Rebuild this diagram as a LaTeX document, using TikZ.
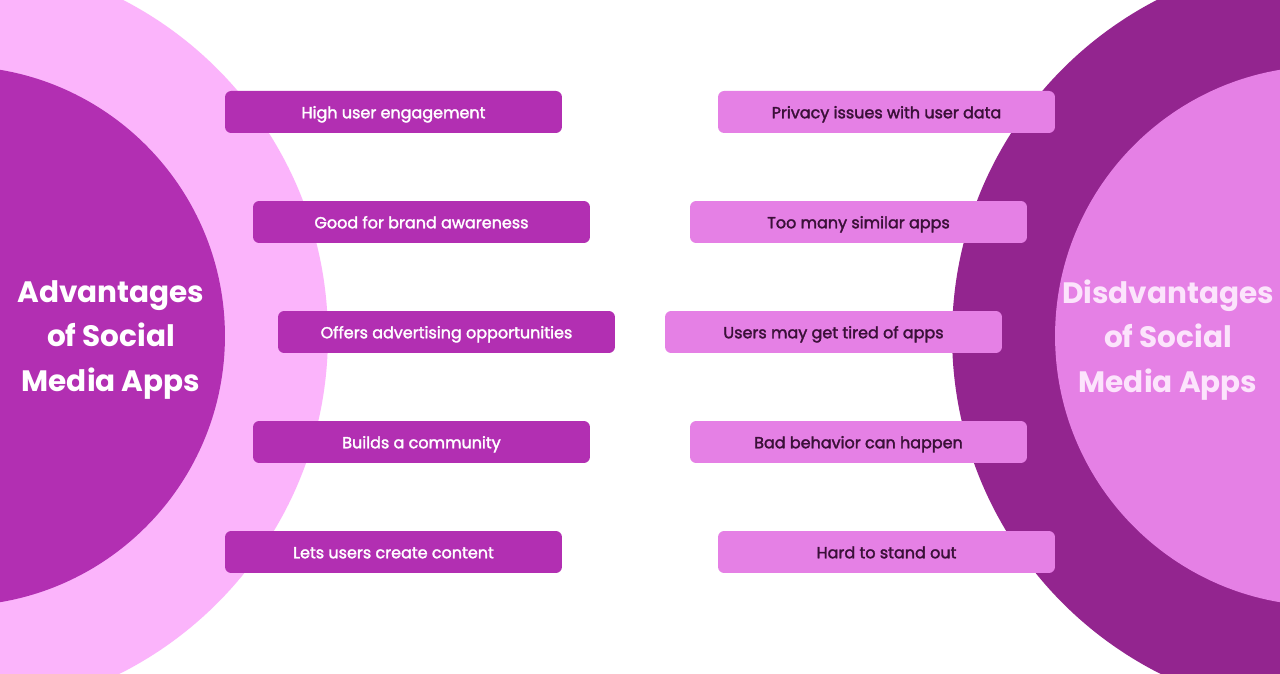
\documentclass[tikz,border=0pt]{standalone}
\usepackage{fontspec}
\setmainfont{Poppins}
\definecolor{advdark}{HTML}{B22FB2}
\definecolor{advlight}{HTML}{FBB4FB}
\definecolor{disdark}{HTML}{93258F}
\definecolor{dislight}{HTML}{E580E5}
\definecolor{distext}{HTML}{3A1038}
\definecolor{distitle}{HTML}{FCE4FC}
\newfontfamily\itemfont{Poppins}[FakeBold=2]
\tikzset{
    itembox/.style={rounded corners=3.5pt, minimum width=6.74cm, minimum height=0.84cm,
        inner sep=0pt, text height=1.5ex, text depth=0.2ex,
        font=\itemfont\fontsize{9.1}{11}\selectfont},
    advbox/.style={itembox, fill=advdark, text=white},
    disbox/.style={itembox, fill=dislight, text=distext},
    sidetitle/.style={align=center, font=\fontsize{16.8}{25.3}\selectfont\bfseries}
}
\begin{document}
\begin{tikzpicture}[x=0.02cm, y=0.02cm]
        \useasboundingbox (0,0) rectangle (1280,673);
        \clip (0,0) rectangle (1280,673);
        \fill[white] (0,0) rectangle (1280,673);
        \begin{scope}
            \fill[advlight] (-50,337) circle (7.56cm);
            \fill[advdark] (-45,337) circle (5.4cm);
            \node[sidetitle, text=white] (advtitle) at (111,333) {Advantages\\of Social\\Media Apps};
        \end{scope}
        \begin{scope}
            \fill[disdark] (1330,337) circle (7.56cm);
            \fill[dislight] (1325,337) circle (5.4cm);
            \node[sidetitle, text=distitle] (distitle) at (1168,333) {Disdvantages\\of Social\\Media Apps};
        \end{scope}
        \foreach \n/\x/\y/\txt in {1/393.5/561/High user engagement,
                                   2/421.5/451/Good for brand awareness,
                                   3/446.5/341/Offers advertising opportunities,
                                   4/421.5/231/Builds a community,
                                   5/393.5/121/Lets users create content}
            \node[advbox] (adv\n) at (\x,\y) {\txt};
        \foreach \n/\x/\y/\txt in {1/886.5/561/Privacy issues with user data,
                                   2/858.5/451/Too many similar apps,
                                   3/833.5/341/Users may get tired of apps,
                                   4/858.5/231/Bad behavior can happen,
                                   5/886.5/121/Hard to stand out}
            \node[disbox] (dis\n) at (\x,\y) {\txt};
    \end{tikzpicture}
\end{document}
